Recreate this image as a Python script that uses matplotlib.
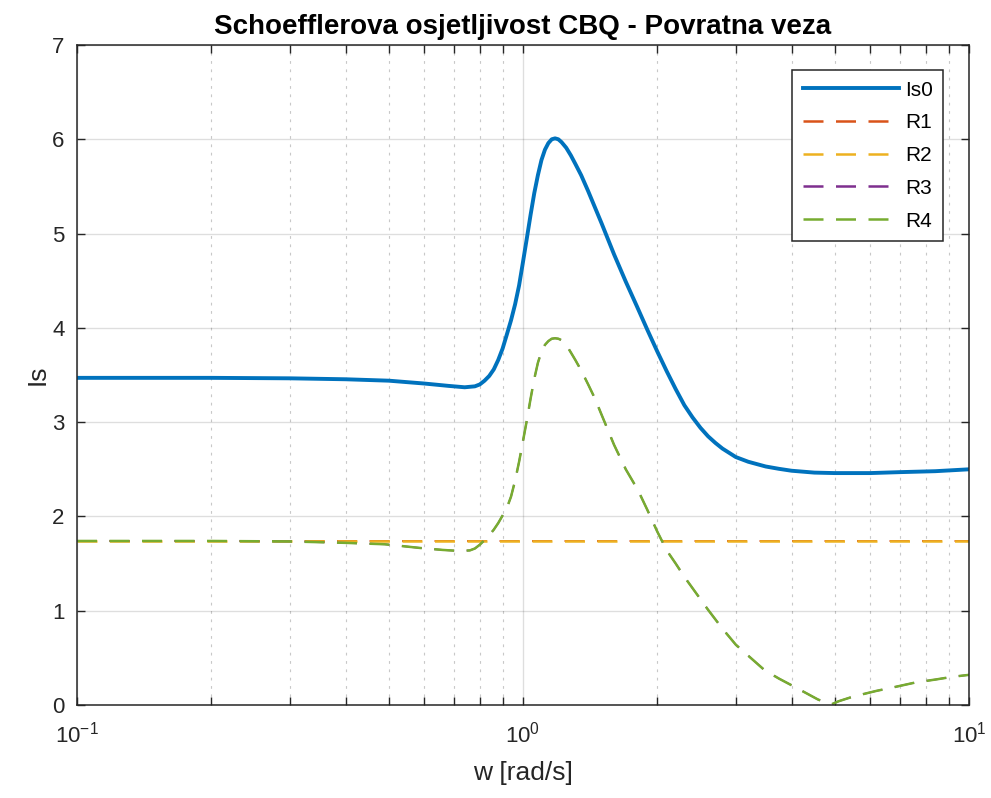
import numpy as np
import matplotlib.pyplot as plt
from matplotlib.ticker import LogLocator, NullFormatter

plt.rcParams['font.family'] = ['Liberation Sans', 'DejaVu Sans']
plt.rcParams['mathtext.default'] = 'regular'
plt.rcParams['lines.scale_dashes'] = False

# Is0 - osjetljivost bez regulatora
w_is0 = [0.1, 0.15, 0.2, 0.3, 0.4, 0.5, 0.6, 0.68, 0.74, 0.78, 0.80, 0.82, 0.84,
         0.86, 0.88, 0.90, 0.92, 0.94, 0.96, 0.98, 1.0, 1.02, 1.04, 1.06, 1.08,
         1.10, 1.12, 1.14, 1.16, 1.18, 1.20, 1.22, 1.25, 1.28, 1.31, 1.35, 1.4,
         1.5, 1.6, 1.7, 1.8, 1.9, 2.0, 2.1, 2.2, 2.3, 2.4, 2.5, 2.6, 2.7, 2.8,
         3.0, 3.2, 3.5, 3.75, 4.0, 4.5, 5.0, 6.0, 7.0, 8.4, 10.0]
is0 = [3.47, 3.47, 3.47, 3.465, 3.455, 3.44, 3.41, 3.385, 3.37, 3.38, 3.40, 3.44, 3.49,
       3.56, 3.66, 3.78, 3.93, 4.08, 4.25, 4.45, 4.70, 4.95, 5.20, 5.43, 5.62,
       5.78, 5.89, 5.96, 6.00, 6.01, 6.00, 5.97, 5.91, 5.83, 5.74, 5.62, 5.45,
       5.11, 4.78, 4.49, 4.23, 3.98, 3.75, 3.54, 3.35, 3.18, 3.05, 2.94, 2.85, 2.78, 2.72,
       2.63, 2.58, 2.53, 2.505, 2.485, 2.465, 2.46, 2.46, 2.47, 2.48, 2.50]

# R1, R2 - konstantni
w_r = [0.1, 10.0]
r1 = [1.74, 1.74]
r2 = [1.74, 1.74]

# R3, R4
w_r4 = [0.1, 0.2, 0.3, 0.4, 0.49, 0.59, 0.66, 0.72, 0.76, 0.78, 0.80, 0.82, 0.84,
        0.86, 0.88, 0.90, 0.92, 0.94, 0.96, 0.98, 1.0, 1.02, 1.04, 1.06, 1.08,
        1.10, 1.12, 1.14, 1.16, 1.18, 1.20, 1.22, 1.25, 1.28, 1.31, 1.35, 1.4,
        1.45, 1.5, 1.6, 1.7, 1.81, 1.9, 2.0, 2.1, 2.2, 2.3, 2.45, 2.6, 2.8, 3.0,
        3.24, 3.48, 3.75, 4.0, 4.3, 4.58, 4.8, 4.93, 5.1, 5.5, 6.2, 6.8, 7.6,
        8.4, 9.2, 10.0]
r4 = [1.74, 1.74, 1.735, 1.72, 1.705, 1.665, 1.645, 1.634, 1.64, 1.66, 1.70, 1.75, 1.80,
      1.86, 1.93, 2.01, 2.09, 2.21, 2.38, 2.58, 2.80, 3.02, 3.25, 3.46, 3.63,
      3.75, 3.82, 3.86, 3.885, 3.89, 3.885, 3.87, 3.82, 3.74, 3.66, 3.55, 3.40,
      3.25, 3.08, 2.76, 2.50, 2.28, 2.07, 1.84, 1.64, 1.50, 1.36, 1.18, 1.01, 0.81, 0.64,
      0.50, 0.37, 0.28, 0.21, 0.13, 0.06, 0.02, 0.01, 0.04, 0.09, 0.15, 0.19, 0.24,
      0.27, 0.30, 0.32]
r3 = r4

fig = plt.figure(figsize=(9.91, 7.98), dpi=100)
ax = fig.add_axes([0.0777, 0.1165, 0.9001, 0.8271])

dash = (14.4, 9)
ax.semilogx(w_is0, is0, color='#0072BD', lw=2.8, label='Is0')
ax.semilogx(w_r, r1, color='#D95319', lw=1.3, dashes=dash, label='R1')
ax.semilogx(w_r, r2, color='#EDB120', lw=1.8, dashes=dash, label='R2')
ax.semilogx(w_r4, r3, color='#7E2F8E', lw=1.3, dashes=dash, label='R3')
ax.semilogx(w_r4, r4, color='#77AC30', lw=1.8, dashes=dash, label='R4')

ax.set_xlim(0.1, 10)
ax.set_ylim(0, 7)
ax.xaxis.set_major_locator(LogLocator(base=10, numticks=10))
ax.xaxis.set_minor_locator(LogLocator(base=10, subs=np.arange(2, 10), numticks=10))
ax.xaxis.set_minor_formatter(NullFormatter())

ax.grid(True, which='major', color='#262626', alpha=0.15, lw=1)
ax.grid(True, which='minor', axis='x', color='#262626', alpha=0.25, lw=0.8, ls=(0, (2, 4)))

ax.tick_params(which='both', direction='in', top=True, right=True,
               length=5.5, width=1, color='#262626', labelsize=16, labelcolor='#262626')
ax.tick_params(axis='x', which='major', pad=12)
ax.tick_params(axis='y', which='major', pad=9)
for s in ax.spines.values():
    s.set_color('#262626')
    s.set_linewidth(1.1)

ax.set_title('Schoefflerova osjetljivost CBQ - Povratna veza', fontsize=20,
             fontweight='bold', color='black', pad=8)
ax.set_xlabel('w [rad/s]', fontsize=19, color='#262626', labelpad=10)
ax.set_ylabel('Is', fontsize=19, color='#262626', labelpad=2)

leg = ax.legend(loc='upper right', bbox_to_anchor=(0.9709, 0.962), borderaxespad=0,
                fontsize=15, handlelength=4.6, handletextpad=0.3, labelspacing=0.66,
                borderpad=0.5, fancybox=False, framealpha=1, edgecolor='#262626')
leg.get_frame().set_linewidth(1.1)
for h in leg.legend_handles[1:]:
    h.set_linewidth(1.8)

fig.savefig('out.png', dpi=100)
